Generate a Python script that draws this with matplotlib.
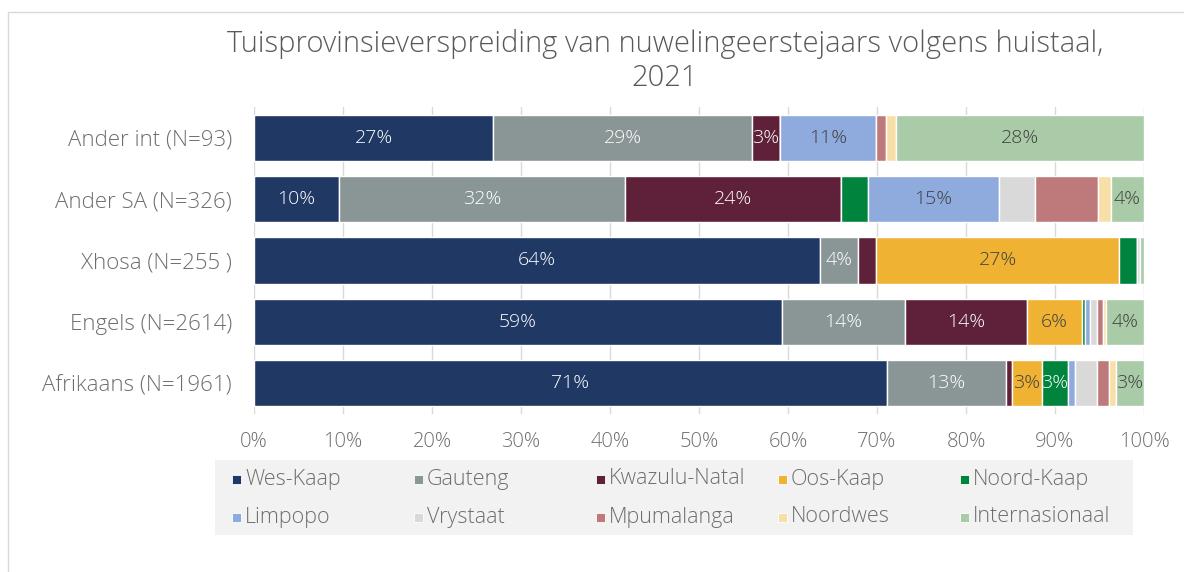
import numpy as np
import matplotlib
matplotlib.use("Agg")
import matplotlib.pyplot as plt
from matplotlib.patches import Rectangle

plt.rcParams["font.family"] = ["Open Sans", "DejaVu Sans"]
plt.rcParams["font.weight"] = "light"

# ── Data (percent of each home-language group, 100% stacked) ─────────
categories = ["Ander int (N=93)", "Ander SA (N=326)", "Xhosa (N=255 )",
              "Engels (N=2614)", "Afrikaans (N=1961)"]

provinces = ["Wes-Kaap", "Gauteng", "Kwazulu-Natal", "Oos-Kaap", "Noord-Kaap",
             "Limpopo", "Vrystaat", "Mpumalanga", "Noordwes", "Internasionaal"]

wes_kaap       = [26.9,  9.6, 63.6, 59.3, 71.1]
gauteng        = [29.0, 32.1,  4.3, 13.9, 13.4]
kwazulu_natal  = [ 3.2, 24.2,  2.0, 13.7,  0.7]
oos_kaap       = [ 0.0,  0.0, 27.3,  6.1,  3.3]
noord_kaap     = [ 0.0,  3.1,  2.0,  0.4,  3.0]
limpopo        = [10.8, 14.7,  0.0,  0.5,  0.7]
vrystaat       = [ 0.0,  4.0,  0.4,  0.8,  2.5]
mpumalanga     = [ 1.1,  7.1,  0.0,  0.7,  1.4]
noordwes       = [ 1.1,  1.5,  0.0,  0.3,  0.7]
internasionaal = [27.9,  3.7,  0.4,  4.3,  3.2]

series = [wes_kaap, gauteng, kwazulu_natal, oos_kaap, noord_kaap,
          limpopo, vrystaat, mpumalanga, noordwes, internasionaal]

# which segments carry a value label (row -> province indices)
labelled = {
    0: [0, 1, 2, 5, 9],
    1: [0, 1, 2, 5, 9],
    2: [0, 1, 3],
    3: [0, 1, 2, 3, 9],
    4: [0, 1, 3, 4, 9],
}

colors = ["#203864", "#8A9696", "#5E2139", "#F0B232", "#00843D",
          "#8FAADC", "#D9D9D9", "#BE7A7A", "#F8DFA7", "#A9CBA8"]
light_text = {0, 1, 2, 4}      # dark fills get white labels
GREY = "#595959"
AXIS_GREY = "#6E6E6E"

# ── Figure ───────────────────────────────────────────────────────────
fig = plt.figure(figsize=(11.84, 5.72), dpi=100)
W, H = 1184, 572

def fx(px):
    return px / W

def fy(py):
    return 1 - py / H

# faint chart border
fig.patches.append(Rectangle((fx(8), fy(700)), fx(1300), fy(12) - fy(700),
                             transform=fig.transFigure, fill=False,
                             edgecolor="#D9D9D9", linewidth=1.0))

ax = fig.add_axes([fx(254), fy(414), fx(1144) - fx(254), fy(107) - fy(414)])

y = np.arange(len(categories))
left = np.zeros(len(categories))
for i, vals in enumerate(series):
    vals = np.array(vals)
    ax.barh(y, vals, left=left, height=0.75, color=colors[i],
            edgecolor="white", linewidth=1.0, zorder=3)
    for r, v in enumerate(vals):
        if i in labelled[r]:
            ax.text(left[r] + v / 2, r, f"{v:.0f}%", ha="center", va="center",
                    fontsize=14, color="white" if i in light_text else "#404040",
                    zorder=4)
    left += vals

ax.set_xlim(0, 100)
ax.set_ylim(len(categories) - 0.5, -0.5)
ax.set_xticks(np.arange(0, 101, 10))
ax.set_xticklabels([f"{t}%" for t in range(0, 101, 10)])
ax.set_yticks(y)
ax.set_yticklabels(categories)
ax.tick_params(axis="both", length=0, colors=AXIS_GREY)
ax.tick_params(axis="x", pad=13, labelsize=14.5)
ax.tick_params(axis="y", pad=16, labelsize=16)
ax.grid(axis="x", color="#D9D9D9", linewidth=1.0, zorder=0)
for s in ax.spines.values():
    s.set_visible(False)

fig.text(fx(665), fy(61),
         "Tuisprovinsieverspreiding van nuwelingeerstejaars volgens huistaal,\n2021",
         ha="center", va="center", fontsize=21, color=GREY, linespacing=1.2)

# ── Legend: grey panel, 2 rows x 5 columns ───────────────────────────
fig.patches.append(Rectangle((fx(215), fy(535)), fx(1133) - fx(215), fy(460) - fy(535),
                             transform=fig.transFigure, facecolor="#F2F2F2",
                             edgecolor="none"))
for i, name in enumerate(provinces):
    row, col = divmod(i, 5)
    cx = 232 + col * 182
    cy = 479 + row * 38
    fig.patches.append(Rectangle((fx(cx), fy(cy + 5)), fx(9), fy(cy - 4) - fy(cy + 5),
                                 transform=fig.transFigure, facecolor=colors[i],
                                 edgecolor="white", linewidth=0.6))
    fig.text(fx(cx + 13), fy(cy), name, ha="left", va="center",
             fontsize=15.5, color=AXIS_GREY)

fig.savefig("out.png", dpi=100)
